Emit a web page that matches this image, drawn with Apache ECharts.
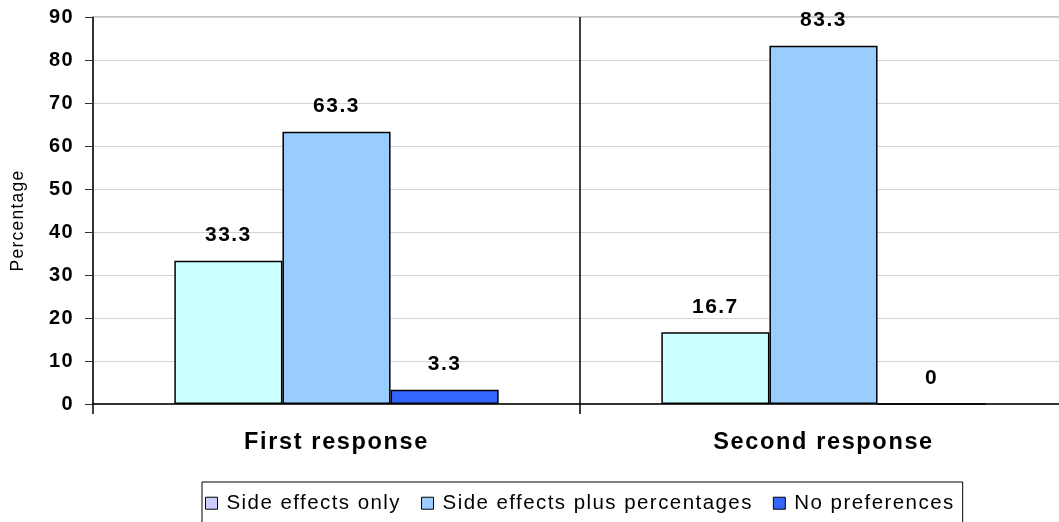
<!DOCTYPE html>
<html>
<head>
<meta charset="utf-8">
<script src="https://cdn.jsdelivr.net/npm/echarts@6/dist/echarts.min.js"></script>
<style>
  html, body { margin: 0; padding: 0; background: #fff; overflow: hidden; }
  #chart { width: 1075px; height: 522px; }
</style>
</head>
<body>
<div id="chart"></div>
<script>
// Response groups and the share (%) of each preference within them
const categories = ['First response', 'Second response'];
const sideEffectsOnly = [33.3, 16.7];
const sideEffectsPlusPct = [63.3, 83.3];
const noPreferences = [3.3, 0];
const yTicks = { min: 0, max: 90, interval: 10 };

const seriesNames = ['Side effects only', 'Side effects plus percentages', 'No preferences'];
const barColors = ['#CCFFFF', '#99CCFF', '#3366FF'];
const legendColors = ['#CCCCFF', '#99CCFF', '#3366FF'];
const seriesValues = [sideEffectsOnly, sideEffectsPlusPct, noPreferences];

// Slightly tracked-out lettering: widen canvas text spacing in proportion to the font size,
// for both drawing and measuring so that layout stays consistent.
(function () {
  const proto = CanvasRenderingContext2D.prototype;
  function track(ctx) {
    const m = /(\d+(?:\.\d+)?)px/.exec(ctx.font || '');
    const size = m ? parseFloat(m[1]) : 12;
    ctx.letterSpacing = (size * 0.07).toFixed(2) + 'px';
  }
  ['fillText', 'strokeText', 'measureText'].forEach(function (fn) {
    const orig = proto[fn];
    proto[fn] = function () { track(this); return orig.apply(this, arguments); };
  });
})();

const font = 'Liberation Sans, Arial, sans-serif';
const chart = echarts.init(document.getElementById('chart'));

chart.setOption({
  animation: false,
  textStyle: { fontFamily: font },
  grid: {
    left: 93, top: 17, width: 974, height: 387,
    show: true, borderColor: '#8c8c8c', borderWidth: 1, backgroundColor: 'transparent'
  },
  legend: {
    left: 202, top: 482,
    data: seriesNames.map((n, i) => ({ name: n, itemStyle: { color: legendColors[i], borderColor: '#000', borderWidth: 1 } })),
    itemWidth: 12, itemHeight: 12, itemGap: 20,
    icon: 'rect',
    textStyle: { fontSize: 20.5, color: '#000', fontFamily: font, padding: [2, 0, 0, 4] },
    borderColor: '#000', borderWidth: 1, borderRadius: 0,
    padding: [10, 8, 12, 3]
  },
  xAxis: {
    type: 'category',
    data: categories,
    axisLine: { lineStyle: { color: '#000', width: 1.5 } },
    axisTick: { show: true, length: 10, lineStyle: { color: '#000', width: 1.5 } },
    splitLine: { show: true, lineStyle: { color: '#000', width: 1.5 } },
    axisLabel: { fontSize: 23.5, fontWeight: 'bold', color: '#000', margin: 26, fontFamily: font }
  },
  yAxis: {
    type: 'value',
    min: yTicks.min, max: yTicks.max, interval: yTicks.interval,
    name: 'Percentage',
    nameLocation: 'middle',
    nameGap: 65,
    nameTextStyle: { fontSize: 17.5, color: '#000', fontFamily: font, padding: [0, 20, 0, 0] },
    axisLine: { show: true, lineStyle: { color: '#333', width: 1.5 } },
    axisTick: { show: true, length: 8, lineStyle: { color: '#333' } },
    splitLine: { show: true, lineStyle: { color: '#d4d4d4', width: 1 } },
    axisLabel: { fontSize: 20, fontWeight: 'bold', color: '#000', margin: 19, fontFamily: font }
  },
  series: seriesNames.map((name, i) => ({
    name: name,
    type: 'bar',
    data: seriesValues[i],
    barWidth: '22.2%',
    barGap: '0%',
    barCategoryGap: '33%',
    itemStyle: { color: barColors[i], borderColor: '#000', borderWidth: 1.5 },
    label: {
      show: true, position: 'top', distance: 14,
      fontSize: 21, fontWeight: 'bold', color: '#000', fontFamily: font
    }
  }))
});
</script>
</body>
</html>
